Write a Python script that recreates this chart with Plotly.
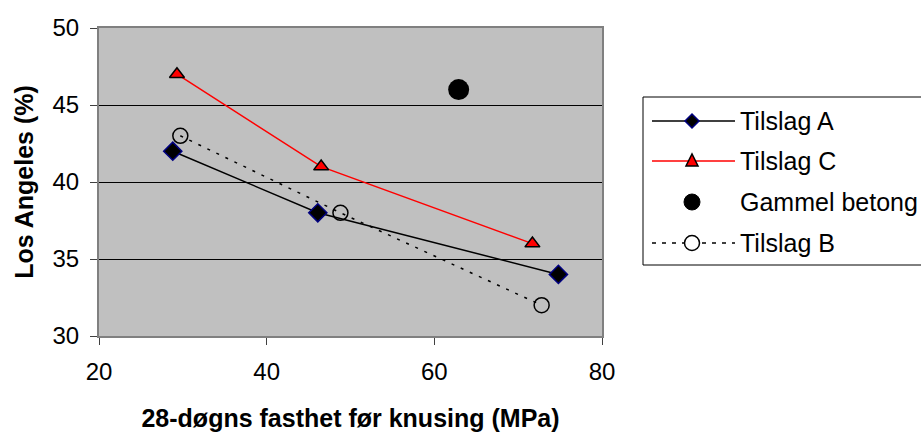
import plotly.graph_objects as go

# Data
a_x = [28.8, 46.1, 74.8]
a_y = [42, 38, 34]
c_x = [29.3, 46.5, 71.7]
c_y = [47, 41, 36]
g_x = [62.9]
g_y = [46]
b_x = [29.7, 48.8, 72.8]
b_y = [43, 38, 32]

x_ticks = [20, 40, 60, 80]
y_ticks = [30, 35, 40, 45, 50]

FONT = "Liberation Sans, Arial, sans-serif"
FS_TICK = 24
FS_LEG = 25
FS_TITLE = 25

L, R, T, B = 99, 602, 28, 336
W, H = 921, 432


def px(x):
    return (x - L) / (R - L)


def py(y):
    return (B - y) / (B - T)


fig = go.Figure()
fig.add_trace(go.Scatter(x=a_x, y=a_y, name="Tilslag A", mode="lines+markers",
                         line=dict(color="black", width=1.5),
                         marker=dict(symbol="diamond", size=14, color="black",
                                     line=dict(color="#000080", width=1.5))))
fig.add_trace(go.Scatter(x=c_x, y=c_y, name="Tilslag C", mode="lines+markers",
                         line=dict(color="#ff0000", width=1.5),
                         marker=dict(symbol="triangle-up", size=13, color="#ff0000",
                                     line=dict(color="black", width=1.5))))
fig.add_trace(go.Scatter(x=g_x, y=g_y, name="Gammel betong", mode="markers",
                         marker=dict(symbol="circle", size=21, color="black")))
fig.add_trace(go.Scatter(x=b_x, y=b_y, name="Tilslag B", mode="lines+markers",
                         line=dict(color="black", width=1.5, dash="3px,7px"),
                         marker=dict(symbol="circle-open", size=15, color="black",
                                     line=dict(color="black", width=1.5))))

# Manual legend (Excel-style, wide line samples)
shapes = []
annotations = []
shapes.append(dict(type="rect", xref="paper", yref="paper",
                   x0=px(643), x1=px(930), y0=py(97), y1=py(265),
                   line=dict(color="black", width=1), fillcolor="white", layer="above"))
items = [
    ("Tilslag A", 121, dict(color="black", width=1.5), "diamond"),
    ("Tilslag C", 161, dict(color="#ff0000", width=1.5), "triangle"),
    ("Gammel betong", 202, None, "dot"),
    ("Tilslag B", 243, dict(color="black", width=1.5, dash="4px,6px"), "open"),
]
cx = px(692)
for name, yy, ln, sym in items:
    yc = py(yy)
    if ln is not None:
        shapes.append(dict(type="line", xref="paper", yref="paper",
                           x0=px(652), x1=px(735), y0=yc, y1=yc, line=ln, layer="above"))
    if sym == "diamond":
        shapes.append(dict(type="path", xref="paper", yref="paper",
                           xsizemode="pixel", ysizemode="pixel", xanchor=cx, yanchor=yc,
                           path="M -7 0 L 0 7 L 7 0 L 0 -7 Z", fillcolor="black",
                           line=dict(color="#000080", width=1.5), layer="above"))
    elif sym == "triangle":
        shapes.append(dict(type="path", xref="paper", yref="paper",
                           xsizemode="pixel", ysizemode="pixel", xanchor=cx, yanchor=yc,
                           path="M -6 -5 L 6 -5 L 0 7 Z", fillcolor="#ff0000",
                           line=dict(color="black", width=1.5), layer="above"))
    elif sym == "dot":
        shapes.append(dict(type="circle", xref="paper", yref="paper",
                           xsizemode="pixel", ysizemode="pixel", xanchor=cx, yanchor=yc,
                           x0=-8, x1=8, y0=-8, y1=8, fillcolor="black",
                           line=dict(color="black", width=1), layer="above"))
    else:
        shapes.append(dict(type="circle", xref="paper", yref="paper",
                           xsizemode="pixel", ysizemode="pixel", xanchor=cx, yanchor=yc,
                           x0=-7.5, x1=7.5, y0=-7.5, y1=7.5, fillcolor="white",
                           line=dict(color="black", width=1.5), layer="above"))
    annotations.append(dict(text=name, xref="paper", yref="paper", x=px(738), y=yc,
                            xanchor="left", yanchor="middle", showarrow=False,
                            font=dict(family=FONT, size=FS_LEG, color="black")))

fig.update_layout(
    width=W, height=H,
    margin=dict(l=L, r=W - R, t=T, b=H - B, autoexpand=False),
    paper_bgcolor="white",
    plot_bgcolor="#c0c0c0",
    font=dict(family=FONT, size=FS_TICK, color="black"),
    showlegend=False,
    shapes=shapes,
    annotations=annotations,
)
fig.update_xaxes(range=[20, 80], tickvals=x_ticks, showgrid=False, zeroline=False,
                 showline=True, linecolor="#808080", linewidth=2, mirror=True,
                 ticks="outside", ticklen=7, tickcolor="#404040",
                 tickfont=dict(size=FS_TICK), ticklabelstandoff=6,
                 title=dict(text="<b>28-døgns fasthet før knusing (MPa)</b>",
                            font=dict(size=FS_TITLE), standoff=26))
fig.update_yaxes(range=[30, 50], tickvals=y_ticks, showgrid=True, gridcolor="black", gridwidth=1,
                 zeroline=False, showline=True, linecolor="#808080", linewidth=2, mirror=True,
                 ticks="outside", ticklen=7, tickcolor="#404040",
                 tickfont=dict(size=FS_TICK), ticklabelstandoff=6,
                 title=dict(text="<b>Los Angeles (%)</b>", font=dict(size=FS_TITLE), standoff=12))

fig.write_html("out.html")
